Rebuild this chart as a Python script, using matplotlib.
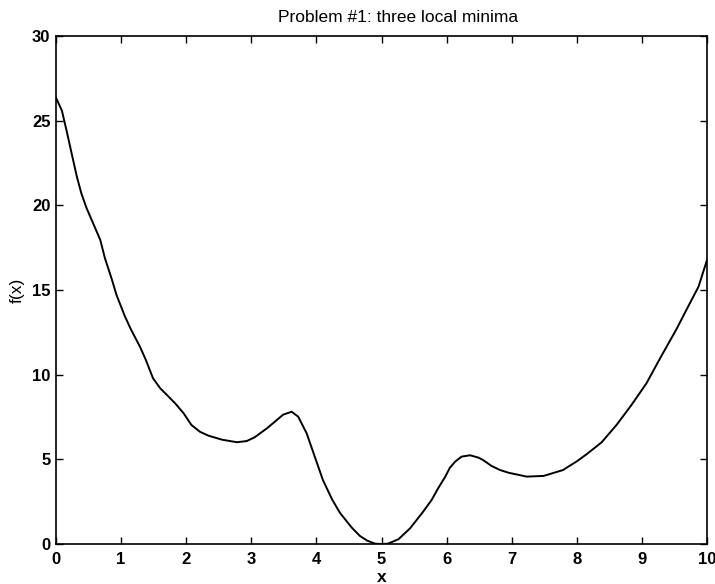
import matplotlib
matplotlib.use("Agg")
import matplotlib.pyplot as plt

x_vals = [0.00, 0.09, 0.16, 0.24, 0.32, 0.39, 0.47, 0.57, 0.68, 0.75, 0.86, 0.93,
          1.06, 1.15, 1.29, 1.38, 1.44, 1.49, 1.60, 1.73, 1.83, 1.96, 2.08, 2.21,
          2.34, 2.55, 2.78, 2.93, 3.05, 3.24, 3.49, 3.62, 3.72, 3.85, 3.98, 4.10,
          4.24, 4.36, 4.54, 4.67, 4.78, 4.90, 5.00, 5.10, 5.26, 5.44, 5.64, 5.77,
          5.87, 5.98, 6.05, 6.13, 6.23, 6.36, 6.49, 6.56, 6.69, 6.82, 6.95, 7.23,
          7.49, 7.79, 7.87, 8.00, 8.15, 8.38, 8.61, 8.84, 9.07, 9.28, 9.53, 9.71,
          9.87, 10.00]
f_vals = [26.35, 25.6, 24.45, 23.07, 21.7, 20.7, 19.83, 18.94, 17.96, 16.9, 15.6, 14.7,
          13.43, 12.68, 11.65, 10.87, 10.28, 9.79, 9.2, 8.70, 8.31, 7.72, 7.03, 6.63,
          6.40, 6.16, 6.01, 6.08, 6.3, 6.83, 7.64, 7.81, 7.52, 6.54, 5.10, 3.78,
          2.64, 1.85, 0.98, 0.47, 0.20, 0.02, 0.00, 0.02, 0.28, 0.93, 1.91, 2.60,
          3.29, 3.98, 4.50, 4.86, 5.16, 5.24, 5.10, 4.96, 4.61, 4.37, 4.21, 3.98,
          4.02, 4.37, 4.57, 4.88, 5.30, 6.0, 7.03, 8.21, 9.49, 10.97, 12.68, 14.02,
          15.2, 16.77]

x_ticks = [0, 1, 2, 3, 4, 5, 6, 7, 8, 9, 10]
y_ticks = [0, 5, 10, 15, 20, 25, 30]

plt.rcParams['font.family'] = ['Liberation Sans', 'DejaVu Sans']

fig = plt.figure(figsize=(7.15, 5.84), dpi=100)
ax = fig.add_axes([56/715, 40/584, (707-56)/715, (544-36)/584])
ax.plot(x_vals, f_vals, color='black', lw=1.4)
ax.set_xlim(0, 10)
ax.set_ylim(0, 30)
ax.set_xticks(x_ticks)
ax.set_yticks(y_ticks)
ax.tick_params(direction='in', top=True, right=True, length=5, width=1,
               labelsize=12, pad=4)
ax.tick_params(axis='x', pad=6)
for lab in ax.get_xticklabels() + ax.get_yticklabels():
    lab.set_fontweight('bold')
for s in ax.spines.values():
    s.set_linewidth(1.2)
ax.set_xlabel('x', fontsize=12.5, fontweight='bold', labelpad=2)
ax.set_ylabel('f(x)', fontsize=12.5, labelpad=5)
fig.text(398.5/715, 1-18/584, 'Problem #1: three local minima', fontsize=12.5,
         ha='center', va='center')
fig.savefig('out.png', dpi=100)
